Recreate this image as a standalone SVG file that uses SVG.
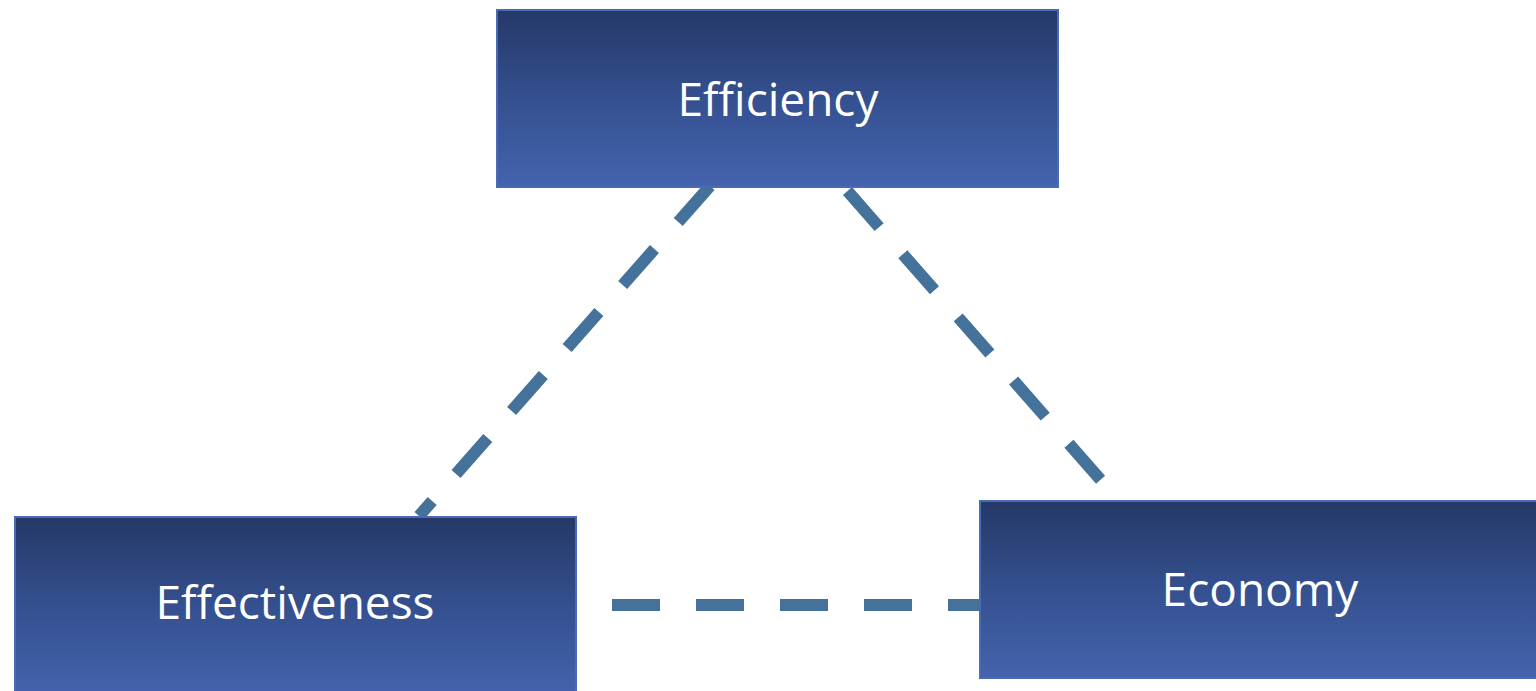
<svg xmlns="http://www.w3.org/2000/svg" width="1536" height="691" viewBox="0 0 1536 691">
<defs>
<linearGradient id="g" x1="0" y1="0" x2="0" y2="1">
<stop offset="0" stop-color="#253968"/>
<stop offset="0.5" stop-color="#34508f"/>
<stop offset="1" stop-color="#4563ae"/>
</linearGradient>
<style>
.box{fill:url(#g);stroke:#4a6ab6;stroke-width:2}
.lbl{fill:#ffffff;font-family:"Open Sans","Noto Sans",sans-serif;font-size:46px;text-anchor:middle}
.con{stroke:#45729b;stroke-width:12;stroke-dasharray:48 36;fill:none}
</style>
</defs>
<rect width="1536" height="691" fill="#ffffff"/>
<g id="connectors">
<line class="con" x1="710" y1="186" x2="419" y2="516"/>
<line class="con" x1="847.5" y1="191" x2="1120" y2="502"/>
<line class="con" x1="612" y1="605" x2="980" y2="605"/>
</g>
<g id="efficiency">
<rect class="box" x="497" y="10" width="561" height="177"/>
<text class="lbl" x="778" y="116">Efficiency</text>
</g>
<g id="effectiveness">
<rect class="box" x="15" y="517" width="561" height="180"/>
<text class="lbl" x="295" y="619">Effectiveness</text>
</g>
<g id="economy">
<rect class="box" x="980" y="501" width="562" height="177"/>
<text class="lbl" x="1260" y="606">Economy</text>
</g>
</svg>
